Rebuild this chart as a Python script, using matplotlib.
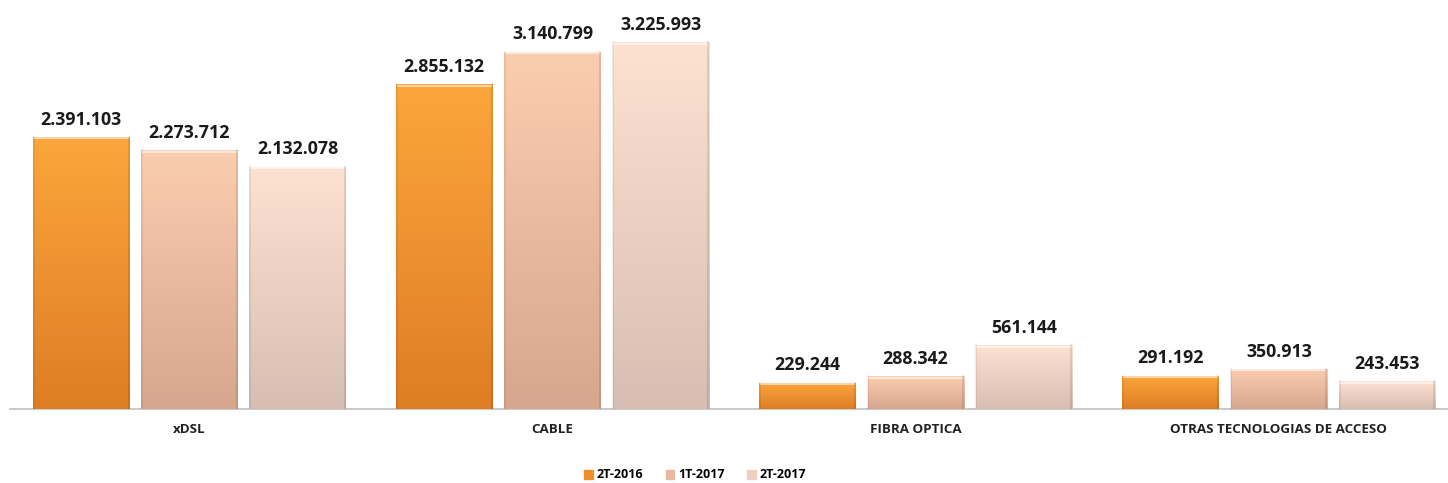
import numpy as np
import matplotlib.pyplot as plt
from matplotlib.colors import LinearSegmentedColormap

categories = ["xDSL", "CABLE", "FIBRA OPTICA", "OTRAS TECNOLOGIAS DE ACCESO"]
series = ["2T-2016", "1T-2017", "2T-2017"]
values_2t2016 = [2391103, 2855132, 229244, 291192]
values_1t2017 = [2273712, 3140799, 288342, 350913]
values_2t2017 = [2132078, 3225993, 561144, 243453]
all_values = [values_2t2016, values_1t2017, values_2t2017]

top_colors = ["#FBA63C", "#FBCDB0", "#FDE2D2"]
bot_colors = ["#DF7D25", "#D7A68E", "#D8BDB2"]
legend_colors = ["#EE8E2D", "#E8B9A0", "#EDD0C3"]

def fmt(v):
    return f"{v:,}".replace(",", ".")

fig = plt.figure(figsize=(14.48, 4.83), dpi=100)
ax = fig.add_axes([10/1448, (483-409)/483, 1438/1448, (409-11)/483])
xlim = (-0.494, 3.466)
ax.set_xlim(*xlim)
ax.set_ylim(0, 3.5e6)

x = np.arange(len(categories))
pitch = 0.298
width = 0.265
for i, vals in enumerate(all_values):
    pos = x + (i - 1) * pitch
    bars = ax.bar(pos, vals, width, color=legend_colors[i], edgecolor="none", label=series[i], zorder=2)
    cmap = LinearSegmentedColormap.from_list(f"g{i}", [bot_colors[i], top_colors[i]])
    for b, v in zip(bars, vals):
        x0 = b.get_x(); w = b.get_width(); h = b.get_height()
        grad = np.linspace(0, 1, 256).reshape(-1, 1)
        im = ax.imshow(grad, extent=[x0, x0 + w, 0, h], origin="lower", aspect="auto",
                       cmap=cmap, zorder=3)
        im.set_clip_path(b)
        ax.plot([x0 + 0.004, x0 + w - 0.004], [h - 12000, h - 12000], color="white", alpha=0.55, lw=1.5, zorder=4)
        ax.plot([x0 + 0.002, x0 + 0.002], [0, h], color="black", alpha=0.08, lw=1.2, zorder=4)
        ax.plot([x0 + w - 0.002, x0 + w - 0.002], [0, h], color="black", alpha=0.12, lw=1.2, zorder=4)
        ax.text(b.get_x() + w / 2, h + 75000, fmt(v), ha="center", va="bottom",
                fontsize=12.8, fontweight="bold", family="Open Sans", color="#1a1a1a", zorder=5)

ax.set_xlim(*xlim)
ax.set_ylim(0, 3.5e6)
for s in ["top", "right", "left"]:
    ax.spines[s].set_visible(False)
ax.spines["bottom"].set_color("#BFBFBF")
ax.spines["bottom"].set_linewidth(1.2)
ax.set_yticks([])
ax.set_xticks(x)
ax.set_xticklabels(categories, fontsize=9.6, fontweight="bold", family="Open Sans", color="#222222")
ax.tick_params(axis="x", length=0, pad=10)

handles = [plt.Rectangle((0, 0), 1, 1, color=c) for c in legend_colors]
fig.legend(handles, series, loc="center", bbox_to_anchor=(695/1448, 1 - 475/483), ncol=3,
           frameon=False, prop={"family": "Open Sans", "weight": "bold", "size": 9},
           handlelength=0.7, handleheight=0.7, handletextpad=0.3, columnspacing=1.8)

fig.savefig("out.png", dpi=100, facecolor="white")
